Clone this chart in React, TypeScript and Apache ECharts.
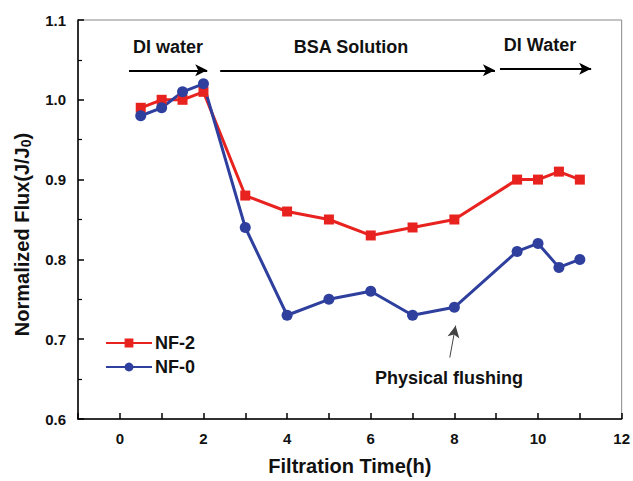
import React, { useEffect, useRef } from "react";
import * as echarts from "echarts";

const timeNF2 = [0.5, 1, 1.5, 2, 3, 4, 5, 6, 7, 8, 9.5, 10, 10.5, 11];
const fluxNF2 = [0.99, 1.0, 1.0, 1.01, 0.88, 0.86, 0.85, 0.83, 0.84, 0.85, 0.9, 0.9, 0.91, 0.9];
const timeNF0 = [0.5, 1, 1.5, 2, 3, 4, 5, 6, 7, 8, 9.5, 10, 10.5, 11];
const fluxNF0 = [0.98, 0.99, 1.01, 1.02, 0.84, 0.73, 0.75, 0.76, 0.73, 0.74, 0.81, 0.82, 0.79, 0.8];

const stageArrows = [
  { from: [0.22, 1.037], to: [2.09, 1.037] },
  { from: [2.4, 1.037], to: [8.97, 1.037] },
  { from: [9.09, 1.039], to: [11.27, 1.039] },
];
const flushArrow = { from: [7.89, 0.677], to: [8.03, 0.717] };

const RED = "#e8231f";
const BLUE = "#2e3f9e";
const FONT = "Liberation Sans, Arial, sans-serif";

export default function App() {
  const ref = useRef<HTMLDivElement>(null);
  useEffect(() => {
    document.body.style.margin = "0";
    const chart = echarts.init(ref.current!, null, { renderer: "svg" });
    const textStyleBase = { fontFamily: FONT, fontWeight: "bold" as const, color: "#111" };
    const txt = (text: string, x: number, y: number, size: number) => ({
      type: "text",
      x,
      y,
      style: {
        text,
        font: `bold ${size}px ${FONT}`,
        fill: "#111",
        textAlign: "center",
        textVerticalAlign: "middle",
        align: "center",
        verticalAlign: "middle",
      },
    });
    chart.setOption({
      animation: false,
      grid: { left: 78, right: 8, top: 20, bottom: 57, show: true, borderColor: "#888", borderWidth: 1 },
      legend: {
        orient: "vertical",
        left: 100,
        top: 329,
        itemWidth: 46,
        itemHeight: 11,
        itemGap: 6,
        textStyle: { ...textStyleBase, fontSize: 18, padding: [0, 0, 0, -2] },
        data: ["NF-2", "NF-0"],
      },
      xAxis: {
        type: "value", min: -1, max: 12, interval: 1,
        axisLine: { onZero: false, lineStyle: { color: "#000", width: 1.5 } },
        axisTick: { inside: true, length: 6, lineStyle: { color: "#000", width: 1.5 } },
        splitLine: { show: false },
        axisLabel: { ...textStyleBase, fontSize: 15, margin: 12, formatter: (v: number) => (v >= 0 && v % 2 === 0 ? String(v) : "") },
        name: "Filtration Time(h)",
        nameLocation: "middle",
        nameGap: 37,
        nameTextStyle: { ...textStyleBase, fontSize: 20 },
      },
      yAxis: {
        type: "value", min: 0.6, max: 1.1, interval: 0.1,
        axisLine: { show: true, onZero: false, lineStyle: { color: "#000", width: 1.5 } },
        axisTick: { inside: true, length: 6, lineStyle: { color: "#000", width: 1.5 } },
        minorTick: { show: true, splitNumber: 2, length: 4, lineStyle: { color: "#000", width: 1.2 } },
        splitLine: { show: false },
        axisLabel: { ...textStyleBase, fontSize: 15, margin: 12, formatter: (v: number) => v.toFixed(1) },
        name: "{a|Normalized Flux(J/J}{s|0}{a|)}",
        nameLocation: "middle",
        nameGap: 45,
        nameTextStyle: {
          ...textStyleBase,
          fontSize: 20,
          padding: [0, 30, 0, 0],
          rich: {
            a: { ...textStyleBase, fontSize: 20 },
            s: { ...textStyleBase, fontSize: 14, padding: [9, 0, 0, 0] },
          },
        },
      },
      series: [
        {
          name: "NF-2", type: "line", data: timeNF2.map((t, i) => [t, fluxNF2[i]]),
          symbol: "rect", symbolSize: 10, lineStyle: { color: RED, width: 3 }, itemStyle: { color: RED },
          markLine: {
            silent: true, symbol: ["none", "arrow"], symbolSize: [9, 12], label: { show: false },
            lineStyle: { color: "#000", width: 2, type: "solid" },
            data: [
              ...stageArrows.map((a) => [{ coord: a.from }, { coord: a.to }]),
              [
                { coord: flushArrow.from, lineStyle: { color: "#444", width: 1 } },
                { coord: flushArrow.to, lineStyle: { color: "#444", width: 1 } },
              ],
            ],
          },
        },
        {
          name: "NF-0", type: "line", data: timeNF0.map((t, i) => [t, fluxNF0[i]]),
          symbol: "circle", symbolSize: 11, lineStyle: { color: BLUE, width: 3 }, itemStyle: { color: BLUE },
        },
      ],
      graphic: [
        txt("DI water", 168, 47, 18),
        txt("BSA Solution", 351, 47, 18),
        txt("DI Water", 540, 45, 18),
        txt("Physical flushing", 449, 378, 18),
      ],
    });
    return () => chart.dispose();
  }, []);
  return <div ref={ref} style={{ width: 633, height: 481 }} />;
}
